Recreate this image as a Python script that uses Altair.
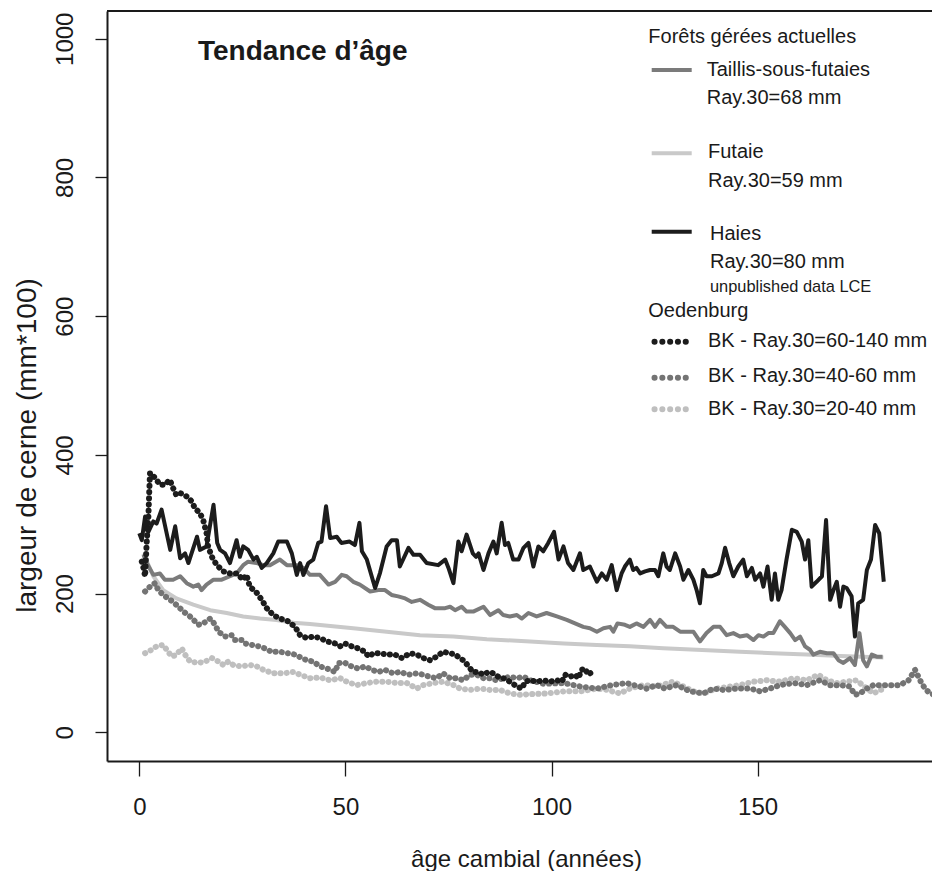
import altair as alt
import pandas as pd

FONT = "Liberation Sans"
INK = "#1a1a1a"

# ---------------- data ----------------
haies_x = [0, 0.6, 1.4, 2.2, 3.4, 4.2, 5.4, 7.5, 8.7, 9.9, 11.1, 11.9, 14, 14.7, 16.3, 18, 18.9, 19.6, 20.8, 22,
           23.6, 24.4, 25.2, 26.4, 27.7, 28.5, 29.7, 30.9, 32.5, 33.7, 35.8, 37, 38.2, 39, 39.8, 41, 42.2, 43.4, 44.2,
           45.3, 46.3, 47.9, 49, 51, 52.3, 53.4, 54, 55.2, 57.2, 58.4, 60, 61.2, 62.5, 63.2, 65.3, 66.5, 68.1, 69.7,
           72.5, 74.2, 75, 76.2, 77.4, 78.2, 79.4, 80.9, 81.7, 82.3, 83.5, 84.7, 85.9, 86.7, 87.9, 88.7, 89.5, 90.7,
           92, 93.2, 94.4, 95.6, 96.8, 98, 99.2, 100.6, 101.7, 102.9, 104, 105.3, 106.9, 107.7, 109.3, 111, 112.2,
           113.4, 114.6, 115.8, 117, 117.8, 119, 119.8, 120.6, 121.5, 122.7, 123.9, 125.1, 125.9, 127.1, 127.9, 128.7,
           130, 131.2, 132, 133.2, 134.4, 135.2, 136, 136.8, 137.6, 138.9, 140.5, 141.3, 142.1, 143.1, 144.1, 145.3,
           146.5, 147.4, 148.6, 149.4, 150.6, 151.4, 152.4, 153.4, 154.2, 155, 155.8, 157, 158.3, 159.5, 160.7, 161.5,
           162.3, 163.1, 164.3, 165.6, 166.6, 167.6, 168.4, 169.2, 170, 170.8, 171.6, 172.8, 173.6, 174.4, 175.6,
           176.5, 177.5, 178.5, 179.5, 180.6]
haies_y = [287, 277, 311, 289, 304, 301, 321, 263, 297, 251, 258, 244, 282, 263, 268, 328, 273, 263, 258, 244,
           277, 253, 268, 263, 249, 253, 237, 244, 258, 275, 275, 258, 227, 244, 227, 244, 249, 273, 275,
           326, 280, 282, 273, 275, 270, 302, 261, 249, 208, 230, 268, 277, 277, 239, 266, 256, 256, 244,
           241, 249, 237, 215, 275, 261, 285, 258, 253, 258, 234, 258, 275, 258, 302, 270, 273, 249,
           249, 266, 273, 239, 268, 261, 273, 289, 249, 268, 244, 234, 258, 234, 239, 217, 229,
           220, 241, 205, 229, 239, 249, 234, 237, 229, 232, 234, 234, 225, 258, 239, 234,
           258, 239, 220, 234, 220, 205, 186, 234, 225, 225, 229, 244, 266, 244, 225, 239,
           249, 225, 237, 220, 229, 210, 239, 191, 229, 191, 205, 249, 292, 289, 275, 249,
           277, 210, 217, 225, 306, 191, 205, 217, 181, 210, 208, 196, 138, 186, 191,
           234, 249, 299, 287, 217]

taillis_x = [1, 1.8, 3.4, 5, 6.2, 8.2, 9.9, 11.5, 13.1, 14.3, 15.1, 16.3, 18, 20, 22, 23.6, 25.2, 26.4, 28.5, 30.1,
             31.7, 34.1, 35.8, 38.2, 39.8, 41.4, 43.8, 45.9, 47.5, 49.1, 50.3, 51.9, 53.5, 56, 58, 59.6, 61.2, 62.8,
             64.5, 66.1, 68.1, 70.1, 71.7, 74.2, 75.4, 76.6, 78.2, 79.4, 81, 83.5, 85.1, 87.1, 88.3, 89.9, 91.6, 92.8,
             94.4, 96.4, 98.8, 101.3, 103.7, 105.7, 107.7, 109.3, 111, 112.6, 114.2, 115, 116, 117.8, 119, 120.6,
             122.3, 123.9, 125.1, 126.3, 127.9, 129.5, 131.2, 132.8, 134.4, 136, 137.6, 139.3, 140.9, 142.5, 144.1,
             145.7, 147.4, 149, 150.2, 151.4, 152.6, 153.8, 155.4, 156.6, 157.9, 159.1, 160.3, 161.5, 162.7, 163.5,
             165.1, 166.8, 168.4, 169.6, 170.8, 172.4, 173.6, 174.7, 175.6, 176.5, 177.7, 178.9, 180.3]
taillis_y = [256, 244, 227, 229, 220, 220, 225, 215, 210, 213, 205, 213, 220, 220, 225, 229, 241, 246, 244, 241,
             241, 249, 241, 241, 237, 227, 227, 213, 217, 227, 225, 217, 213, 203, 205, 205, 198, 196,
             193, 188, 191, 184, 179, 179, 181, 176, 181, 174, 174, 181, 169, 176, 169, 167, 169, 164,
             172, 167, 172, 167, 162, 157, 152, 150, 145, 150, 152, 145, 157, 155, 152, 157,
             152, 162, 152, 162, 152, 152, 145, 145, 145, 131, 143, 152, 152, 140, 143,
             138, 140, 133, 140, 138, 143, 143, 160, 152, 143, 133, 138, 124, 119, 112,
             116, 114, 114, 104, 100, 107, 97, 143, 104, 95, 112, 109, 109]

futaie_x = [1, 3.4, 5.8, 9, 13.1, 17.2, 21.2, 25.2, 29.3, 33.3, 37.4, 41.4, 51.9, 60, 68.1, 76.2, 84.3, 94.8, 103,
            111, 119, 127.1, 135.2, 145.7, 153.8, 161.9, 170, 180.5]
futaie_y = [258, 225, 205, 193, 184, 176, 172, 167, 164, 162, 158, 156, 150, 145, 140, 138, 134, 131, 128,
            126, 124, 121, 119, 116, 114, 112, 110, 108]

bk60_x = [0.6, 1, 1.4, 1.8, 2.2, 2.4, 2.6, 3.8, 5, 6.2, 7.4, 8.2, 9, 9.9, 11.5, 12.7, 13.5, 14.7, 15.5, 16.3, 16.7,
          17.6, 18.8, 20.4, 22, 23.6, 25.2, 26, 26.8, 28.5, 29.7, 30.9, 32.5, 34.1, 36.1, 37.8, 39, 40.6, 42.2, 43.8,
          45.5, 47.5, 48.7, 49.9, 51.5, 53.1, 54.8, 55.6, 56.8, 58.4, 60, 62, 63.7, 65.7, 67.3, 68.9, 70.5, 72.1,
          73.7, 75.4, 76.6, 77.8, 79, 79.8, 81, 82.2, 83.5, 84.7, 85.9, 87.1, 88.3, 89.9, 91.6, 92.8, 93.6, 94.8,
          96.4, 98, 99.6, 101.3, 102.5, 103.3, 104.5, 105.7, 106.5, 107.3, 108.1, 108.9, 109.8, 110.6]
bk60_y = [246, 237, 225, 275, 311, 345, 374, 367, 357, 357, 364, 352, 342, 345, 340, 333, 323, 316, 306, 287, 268,
          253, 241, 232, 229, 229, 220, 227, 210, 201, 191, 179, 169, 164, 160, 152, 140, 136, 138, 136,
          131, 128, 124, 128, 124, 121, 116, 109, 114, 114, 112, 112, 107, 114, 112, 107, 104, 109,
          116, 114, 112, 107, 102, 95, 87, 87, 83, 87, 85, 80, 78, 73, 66, 63, 73, 75,
          73, 75, 73, 75, 73, 83, 80, 83, 78, 90, 92, 83, 87, 90]

bk40_x = [1.4, 2.6, 3.8, 4.6, 5.8, 7, 8.2, 9.5, 10.7, 12.3, 13.5, 14.3, 15.5, 17.2, 18.4, 19.2, 20.8, 22.4, 23.2,
          24.8, 25.6, 27.3, 28.9, 30.5, 32.1, 34.1, 36.1, 37.8, 39.4, 40.6, 42.2, 43.8, 45.5, 47.5, 48.3, 49.9,
          51.5, 53.1, 54.8, 56.4, 58, 59.6, 61.6, 63.2, 65.3, 67.3, 68.9, 70.5, 72.1, 73.7, 75.4, 77, 78.6, 80.2,
          81.8, 83.5, 85.1, 86.7, 88.3, 89.9, 91.6, 93.2, 94.8, 98, 103, 107, 111, 114.6, 118.2, 120, 123, 125.5,
          127.5, 130.4, 133.6, 136.8, 139.3, 141.7, 144.9, 148.2, 150.6, 153, 155.4, 158.7, 161.9, 165.1, 167.6,
          170, 172.4, 173.6, 174.8, 176.5, 178.1, 179.7, 182.1, 184.5, 186.6, 188.2, 189.4, 190.6, 191.8, 193,
          194.2]
bk40_y = [203, 210, 215, 205, 198, 193, 188, 181, 174, 167, 160, 155, 157, 164, 155, 145, 138, 140, 133,
          133, 128, 126, 124, 121, 116, 116, 114, 112, 107, 104, 102, 95, 92, 87, 100, 100,
          95, 92, 95, 90, 87, 90, 85, 87, 83, 85, 83, 80, 78, 85, 78, 78, 75, 83,
          83, 78, 78, 75, 78, 80, 78, 80, 75, 70, 71, 66, 63, 68, 71, 68, 63, 68,
          63, 68, 59, 56, 63, 61, 63, 63, 59, 63, 68, 71, 68, 75, 68,
          68, 66, 54, 56, 63, 68, 68, 68, 68, 75, 90, 75, 63, 56, 54,
          59]

bk20_x = [1.4, 3, 4.2, 5.8, 7, 7.9, 9, 10.3, 11.1, 12.3, 14.3, 16, 17.6, 19.2, 20.4, 21.6, 22.8, 24.8, 26.8, 28.5,
          30.1, 32.5, 35, 37.4, 39, 41.4, 43.8, 46.3, 48.7, 50.3, 52.7, 55.2, 57.6, 60, 62.5, 64.9, 67.3, 68.9,
          71.3, 73.7, 76.2, 77.8, 80.2, 82.7, 85.1, 87.5, 89.9, 92.3, 94.8, 98.8, 103, 107, 111, 113.5, 116.6,
          119, 122.3, 125.5, 129.5, 132, 134.4, 136.8, 140, 143.3, 145.7, 149, 152.2, 155.4, 158.7, 161.9, 164.7,
          166.8, 169.2, 171.6, 174, 176.5, 178.1, 179.7, 181.3]
bk20_y = [114, 119, 124, 126, 116, 109, 112, 121, 112, 102, 100, 102, 107, 102, 97, 102, 97, 95, 97, 95,
          90, 85, 85, 87, 83, 78, 79, 75, 78, 73, 68, 71, 73, 73, 71, 71, 63, 68,
          71, 73, 68, 63, 61, 63, 61, 61, 56, 54, 55, 56, 59, 59, 63, 61, 56,
          63, 68, 66, 73, 66, 59, 56, 63, 66, 68, 73, 75, 73, 78, 75, 83,
          75, 71, 73, 75, 63, 56, 61, 63]

x_ticks = [0, 50, 100, 150]
y_ticks = [0, 200, 400, 600, 800, 1000]

title_text = "Tendance d\u2019âge"
x_title = "âge cambial (années)"
y_title = "largeur de cerne (mm*100)"
legend_head_1 = "Forêts gérées actuelles"
legend_head_2 = "Oedenburg"
forest_names = ["Taillis-sous-futaies", "Futaie", "Haies"]
forest_sub = ["Ray.30=68 mm", "Ray.30=59 mm", "Ray.30=80 mm"]
haies_note = "unpublished data LCE"
bk_names = ["BK - Ray.30=60-140 mm", "BK - Ray.30=40-60 mm", "BK - Ray.30=20-40 mm"]

# ---------------- styling ----------------
W, H = 825, 750
LEG = 20
C_TAILLIS = "#7b7b7b"
C_FUTAIE = "#c9c9c9"
C_HAIES = "#1c1c1c"
C_BK60 = "#1c1c1c"
C_BK40 = "#747474"
C_BK20 = "#bfbfbf"

x_scale = alt.Scale(domain=[-7.84, 192.3], nice=False, zero=False)
y_scale = alt.Scale(domain=[-41.4, 1040], nice=False, zero=False)

x_axis = alt.Axis(values=x_ticks, format="d", grid=False, domain=True, domainColor=INK, domainWidth=2,
                  ticks=True, tickSize=15, tickWidth=1.3, tickColor=INK,
                  labelFont=FONT, labelFontSize=24, labelColor=INK, labelBaseline="alphabetic",
                  labelPadding=38, labelFlush=False,
                  title=x_title, titleFont=FONT, titleFontSize=24, titleFontWeight="normal", titleColor=INK,
                  titleX=419, titleY=105, titleAlign="center", titleBaseline="alphabetic", titleAnchor="start")
y_axis = alt.Axis(values=y_ticks, format="d", grid=False, domain=True, domainColor=INK, domainWidth=2,
                  ticks=True, tickSize=12, tickWidth=1.3, tickColor=INK,
                  labelFont=FONT, labelFontSize=24, labelColor=INK, labelAngle=270,
                  labelAlign="center", labelBaseline="alphabetic", labelPadding=23, labelFlush=False,
                  title=y_title, titleFont=FONT, titleFontSize=28, titleFontWeight="normal", titleColor=INK,
                  titleAngle=270, titleX=-72, titleY=434, titleAlign="center", titleBaseline="alphabetic",
                  titleAnchor="start")


def series(xs, ys):
    return pd.DataFrame({"age": xs, "largeur": ys, "ordre": list(range(len(xs)))})


def enc():
    return dict(x=alt.X("age:Q", scale=x_scale, axis=x_axis),
                y=alt.Y("largeur:Q", scale=y_scale, axis=y_axis),
                order="ordre:Q")


def solid(xs, ys, color):
    return alt.Chart(series(xs, ys)).mark_line(color=color, strokeWidth=4, clip=True,
                                                strokeJoin="round").encode(**enc())


def dotted(xs, ys, color):
    return alt.Chart(series(xs, ys)).mark_line(color=color, strokeWidth=6, clip=True, strokeCap="round",
                                                strokeDash=[0.1, 6.1]).encode(**enc())


one = pd.DataFrame({"k": [0]})


def text(t, x, y, size=LEG, weight="normal"):
    return alt.Chart(pd.DataFrame({"t": [t]})).mark_text(
        align="left", baseline="alphabetic", font=FONT, fontSize=size, fontWeight=weight, color=INK
    ).encode(x=alt.value(x), y=alt.value(y), text="t:N")


def sample(y, color, dots=False):
    if dots:
        m = alt.Chart(one).mark_rule(color=color, strokeWidth=6, strokeCap="round", strokeDash=[0.1, 7.7])
        return m.encode(x=alt.value(547.5), x2=alt.value(579), y=alt.value(y))
    m = alt.Chart(one).mark_rule(color=color, strokeWidth=4)
    return m.encode(x=alt.value(544.7), x2=alt.value(584.7), y=alt.value(y))


top_line = alt.Chart(one).mark_rule(color=INK, strokeWidth=2).encode(
    x=alt.value(0), x2=alt.value(W), y=alt.value(0))

layers = [
    solid(futaie_x, futaie_y, C_FUTAIE),
    solid(taillis_x, taillis_y, C_TAILLIS),
    solid(haies_x, haies_y, C_HAIES),
    dotted(bk20_x, bk20_y, C_BK20),
    dotted(bk40_x, bk40_y, C_BK40),
    dotted(bk60_x, bk60_y, C_BK60),
    top_line,
    text(title_text, 91, 49, size=28, weight="bold"),
    text(legend_head_1, 541.3, 31.7),
    sample(59, C_TAILLIS),
    text(forest_names[0], 599.7, 65),
    text(forest_sub[0], 599.7, 93),
    sample(142.3, C_FUTAIE),
    text(forest_names[1], 601, 147.3),
    text(forest_sub[1], 601, 176.3),
    sample(220.7, C_HAIES),
    text(forest_names[2], 603, 229),
    text(forest_sub[2], 603, 257.3),
    text(haies_note, 603, 280.7, size=16.4),
    text(legend_head_2, 541.3, 305.7),
    sample(330.7, C_BK60, dots=True),
    text(bk_names[0], 601, 335.7),
    sample(366.7, C_BK40, dots=True),
    text(bk_names[1], 601, 371.3),
    sample(398.3, C_BK20, dots=True),
    text(bk_names[2], 601, 404),
]

chart = alt.layer(*layers).properties(
    width=W, height=H,
    padding={"left": 99, "top": 3, "right": 0, "bottom": 110},
    autosize=alt.AutoSizeParams(type="none"),
    background="white",
).configure_view(strokeWidth=0)

chart.save("out.html", embed_options={"renderer": "svg", "actions": False})
